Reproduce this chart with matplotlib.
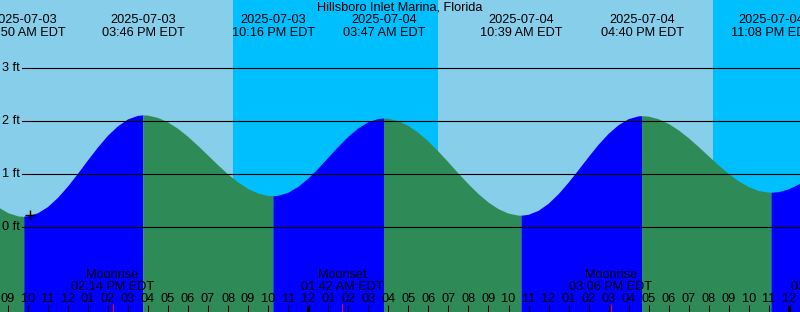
import matplotlib
matplotlib.use('Agg')
import matplotlib.pyplot as plt
import matplotlib.transforms as mtransforms
import numpy as np
import pandas as pd

plt.rcParams['font.family'] = ['Liberation Sans', 'DejaVu Sans']
plt.rcParams['font.size'] = 9.2

TITLE = "Hillsboro Inlet Marina, Florida"
T0 = pd.Timestamp("2025-07-03 09:00")

# high / low tides, labelled along the top
tide_times = ["2025-07-03 09:50", "2025-07-03 15:46", "2025-07-03 22:16",
              "2025-07-04 03:47", "2025-07-04 10:39", "2025-07-04 16:40",
              "2025-07-04 23:08"]
tide_heights = [0.19, 2.11, 0.575, 2.05, 0.205, 2.095, 0.64]

# water level every half hour, 08:00 Jul 3 .. 01:00 Jul 5
level_start = "2025-07-03 08:00"
level_heights = [
    0.530, 0.375, 0.263, 0.202, 0.194, 0.249, 0.367, 0.540, 0.755, 0.998,
    1.252, 1.498, 1.721, 1.901, 2.032, 2.100, 2.105, 2.062, 1.978, 1.856,
    1.704, 1.532, 1.349, 1.165, 0.991, 0.838, 0.715, 0.627, 0.581, 0.581,
    0.638, 0.750, 0.906, 1.095, 1.302, 1.510, 1.701, 1.861, 1.978, 2.040,
    2.045, 2.001, 1.911, 1.780, 1.615, 1.424, 1.219, 1.008, 0.804, 0.617,
    0.456, 0.330, 0.245, 0.207, 0.221, 0.297, 0.430, 0.612, 0.832, 1.072,
    1.317, 1.553, 1.759, 1.924, 2.038, 2.091, 2.086, 2.036, 1.948, 1.825,
    1.676, 1.508, 1.332, 1.158, 0.997, 0.858, 0.748, 0.674, 0.642, 0.652,
    0.705, 0.798, 0.925,
]

# sunset -> sunrise
night_start = ["2025-07-03 20:14", "2025-07-04 20:12"]
night_end = ["2025-07-04 06:28", "2025-07-05 06:30"]

moon_events = ["Moonrise", "Moonset", "Moonrise", "Moonset"]
moon_times = ["2025-07-03 14:14", "2025-07-04 01:42", "2025-07-04 15:06",
              "2025-07-05 02:10"]

level_ticks = [0, 1, 2, 3]

SKY = "#87CEEB"
NIGHT = "#00BFFF"
FLOOD = "#0000FF"
EBB = "#2E8B57"

W, H = 800, 312


def hrs(ts):
    return (pd.to_datetime(ts) - T0) / pd.Timedelta(hours=1)


def fmt_clock(ts):
    return ts.strftime("%I:%M %p") + " EDT"


fig = plt.figure(figsize=(W / 100, H / 100), dpi=100)
ax = fig.add_axes([0, 0, 1, 1])
ax.set_xlim(-0.387, 39.553)
ax.set_ylim(-1.623, 4.30)
ax.set_axis_off()
ax.add_patch(plt.Rectangle((0, 0), 1, 1, transform=ax.transAxes,
                           color=SKY, zorder=0))

trans = mtransforms.blended_transform_factory(ax.transData, ax.transAxes)


def ypos(py):
    return 1 - py / H


for a, b in zip(night_start, night_end):
    ax.axvspan(hrs(a), hrs(b), color=NIGHT, lw=0, zorder=1)

# merge the curve readings with the extremes
level_stamps = pd.date_range(level_start, periods=len(level_heights), freq="30min")
t_all = np.concatenate([np.asarray(hrs(level_stamps)),
                        np.asarray(hrs(pd.Series(tide_times)))])
h_all = np.concatenate([level_heights, tide_heights])
order = np.argsort(t_all)
t_all, h_all = t_all[order], h_all[order]

bounds = [t_all[0]] + list(hrs(pd.Series(tide_times))) + [t_all[-1]]
for a, b in zip(bounds[:-1], bounds[1:]):
    m = (t_all >= a) & (t_all <= b)
    tt, hh = t_all[m], h_all[m]
    color = FLOOD if hh[-1] > hh[0] else EBB
    ax.fill_between(tt, hh, -5, color=color, lw=0, zorder=2)

for v in level_ticks:
    ax.axhline(v, xmin=22 / W, color="black", lw=0.8, zorder=3)
    ax.text(2 / W, v, f"{v} ft", transform=ax.get_yaxis_transform(),
            ha="left", va="center", zorder=4)

# marker on the curve
ax.plot([1.11], [0.21], marker="+", color="black", ms=6.5, mew=1.0, zorder=4)

ax.text(0.5, ypos(11), TITLE, transform=ax.transAxes, ha="center",
        va="baseline", zorder=4)

for ts in tide_times:
    t = pd.Timestamp(ts)
    x = hrs(t)
    ax.text(x, ypos(23.3), t.strftime("%Y-%m-%d"), transform=trans,
            ha="center", va="baseline", zorder=4)
    ax.text(x, ypos(36), fmt_clock(t), transform=trans,
            ha="center", va="baseline", zorder=4)

# hour ticks along the bottom
hour_stamps = pd.date_range("2025-07-03 08:00", "2025-07-05 01:00", freq="h")
for t in hour_stamps:
    x = hrs(t)
    ax.text(x, ypos(301.7), t.strftime("%I"), transform=trans,
            ha="center", va="baseline", zorder=4)
    lw = 2.2 if t.hour == 0 else 0.75
    ax.plot([x, x], [ypos(305), 0], transform=trans, color="black",
            lw=lw, solid_capstyle="butt", zorder=4)

for name, ts in zip(moon_events, moon_times):
    t = pd.Timestamp(ts)
    x = hrs(t)
    ax.text(x, ypos(278), name, transform=trans, ha="center",
            va="baseline", zorder=4)
    ax.text(x, ypos(290), fmt_clock(t), transform=trans, ha="center",
            va="baseline", zorder=4)
    ax.plot([x, x], [ypos(304), 0], transform=trans, color="red",
            lw=0.75, solid_capstyle="butt", zorder=5)

fig.savefig("out.png", dpi=100)
